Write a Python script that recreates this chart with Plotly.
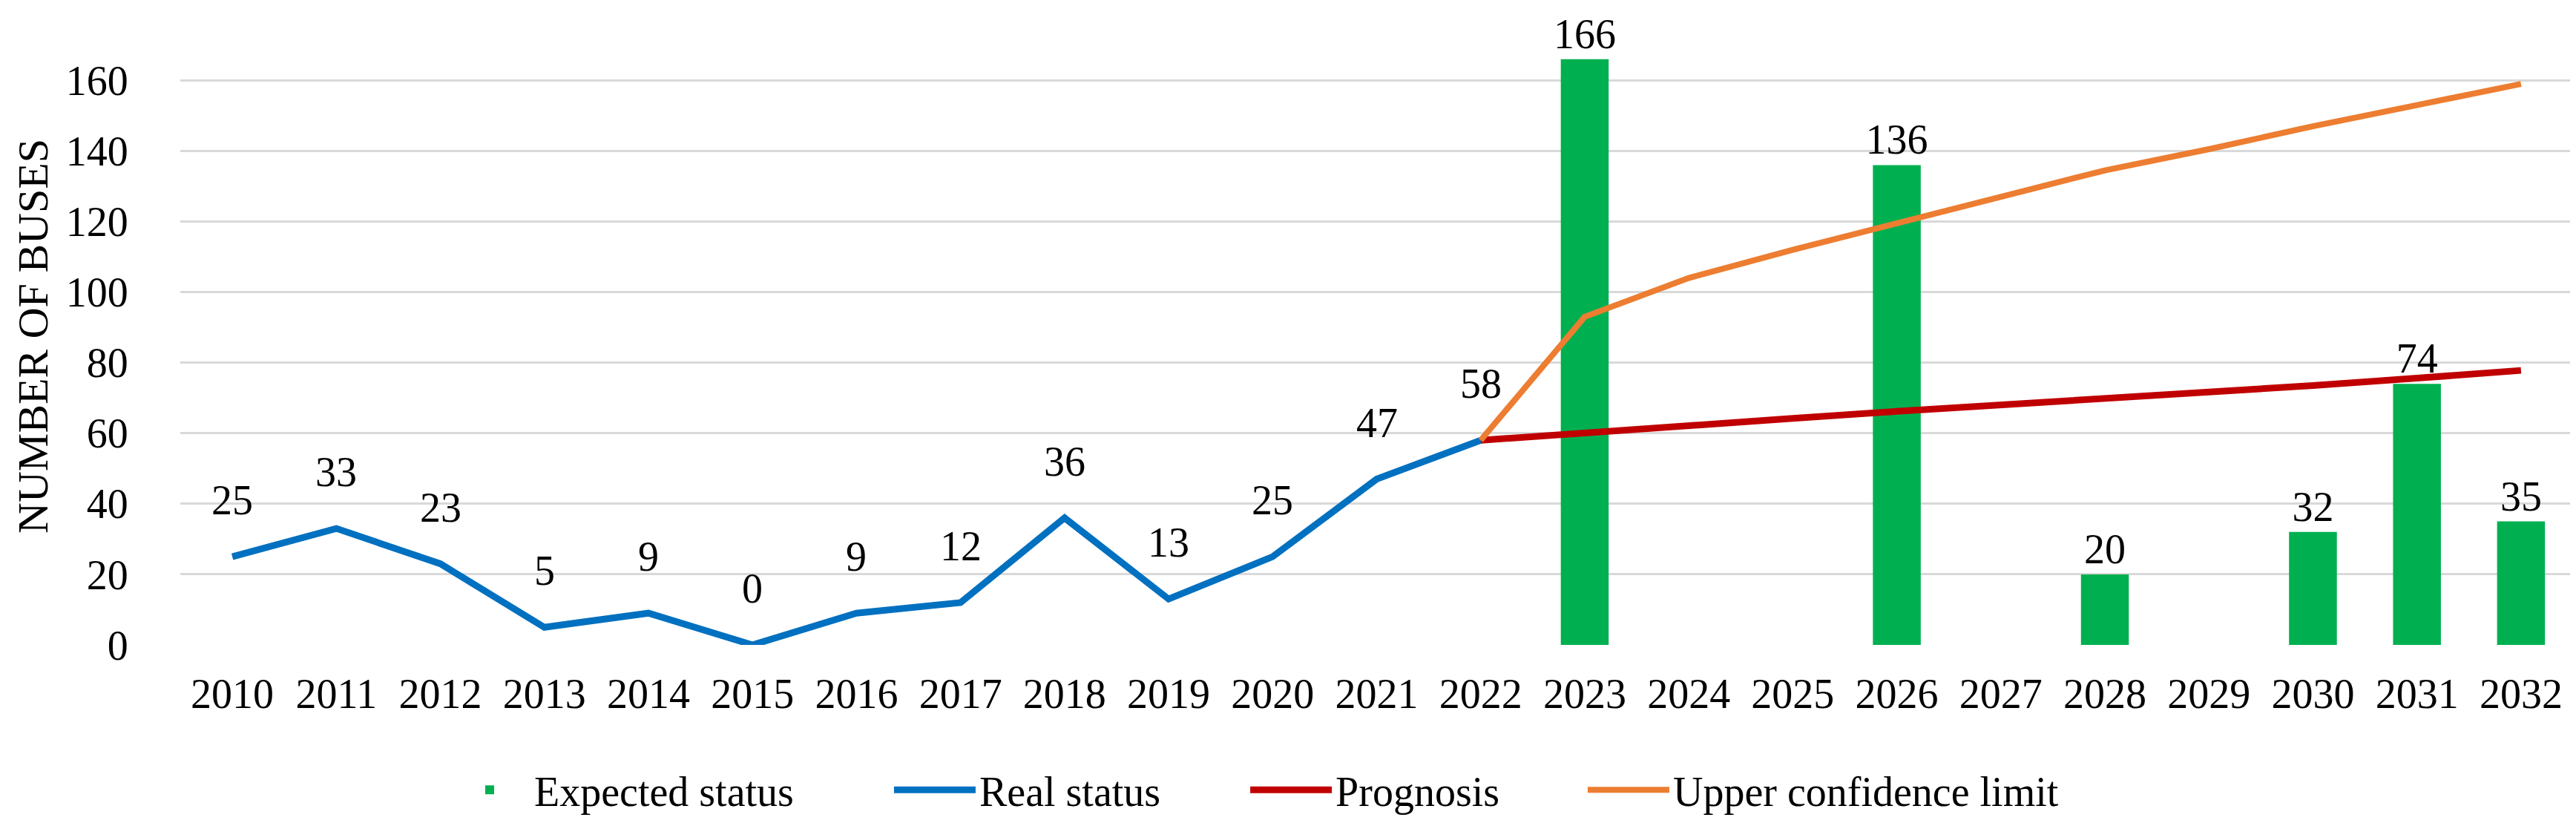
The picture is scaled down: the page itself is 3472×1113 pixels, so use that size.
import plotly.graph_objects as go

years = ["2010", "2011", "2012", "2013", "2014", "2015", "2016", "2017", "2018", "2019",
         "2020", "2021", "2022", "2023", "2024", "2025", "2026", "2027", "2028", "2029",
         "2030", "2031", "2032"]

bar_years = ["2023", "2026", "2028", "2030", "2031", "2032"]
bar_values = [166, 136, 20, 32, 74, 35]

real_years = ["2010", "2011", "2012", "2013", "2014", "2015", "2016", "2017", "2018",
              "2019", "2020", "2021", "2022"]
real_values = [25, 33, 23, 5, 9, 0, 9, 12, 36, 13, 25, 47, 58]

prog_years = ["2022", "2023", "2024", "2025", "2026", "2027", "2028", "2029", "2030",
              "2031", "2032"]
prog_values = [58, 60.2, 62.2, 64.2, 66.2, 68, 69.7, 71.6, 73.5, 75.6, 77.8]
upper_values = [58, 93, 104, 112, 119.5, 127, 134.5, 140.5, 147, 153, 159]

y_ticks = [0, 20, 40, 60, 80, 100, 120, 140, 160]

FONT = "Liberation Serif"
FS = 56
GREEN = "#00B050"
BLUE = "#0070C0"
RED = "#C00000"
ORANGE = "#ED7D31"

fig = go.Figure()

fig.add_trace(go.Bar(
    x=bar_years, y=bar_values, name="Expected status", legend="legend",
    marker=dict(color=GREEN, line=dict(width=0)),
    text=[str(v) for v in bar_values], textposition="outside",
    constraintext="none",
    textfont=dict(family=FONT, size=FS, color="black"),
    cliponaxis=False,
))
fig.add_trace(go.Scatter(
    x=real_years, y=real_values, name="Real status", mode="lines", legend="legend2",
    line=dict(color=BLUE, width=9),
))
fig.add_trace(go.Scatter(
    x=prog_years, y=prog_values, name="Prognosis", mode="lines", legend="legend3",
    line=dict(color=RED, width=9),
))
fig.add_trace(go.Scatter(
    x=prog_years, y=upper_values, name="Upper confidence limit", mode="lines",
    legend="legend4", line=dict(color=ORANGE, width=8),
))

# data labels above the real-status line
for xv, yv in zip(real_years, real_values):
    fig.add_annotation(x=years.index(xv), y=yv, text=str(yv), showarrow=False,
                       yshift=76, font=dict(family=FONT, size=FS, color="black"))


def legend_box(xpos):
    return dict(orientation="h", xref="container", yref="container",
                x=xpos, y=0.051, xanchor="left", yanchor="middle",
                font=dict(family=FONT, size=FS, color="black"),
                itemwidth=110, bgcolor="rgba(0,0,0,0)")


fig.update_layout(
    width=3472, height=1113,
    paper_bgcolor="white", plot_bgcolor="white",
    margin=dict(l=235, r=12, t=29, b=252),
    font=dict(family=FONT, size=FS, color="black"),
    bargap=0.54,
    showlegend=True,
    legend=legend_box(0.1705),
    legend2=legend_box(0.3433),
    legend3=legend_box(0.4816),
    legend4=legend_box(0.6126),
    xaxis=dict(type="category", categoryorder="array", categoryarray=years,
               range=[-0.5, 22.5], showgrid=False, showline=False, zeroline=False,
               ticks="", ticklabelstandoff=28,
               tickfont=dict(family=FONT, size=FS, color="black")),
    yaxis=dict(range=[0, 175], tickvals=y_ticks, showgrid=True, gridcolor="#D9D9D9",
               gridwidth=3, zeroline=False, showline=False,
               ticks="outside", ticklen=58, tickcolor="rgba(0,0,0,0)",
               tickfont=dict(family=FONT, size=FS, color="black"),
               title=dict(text="NUMBER OF BUSES", standoff=5,
                          font=dict(family=FONT, size=FS + 2, color="black"))),
)

fig.write_html("out.html")
